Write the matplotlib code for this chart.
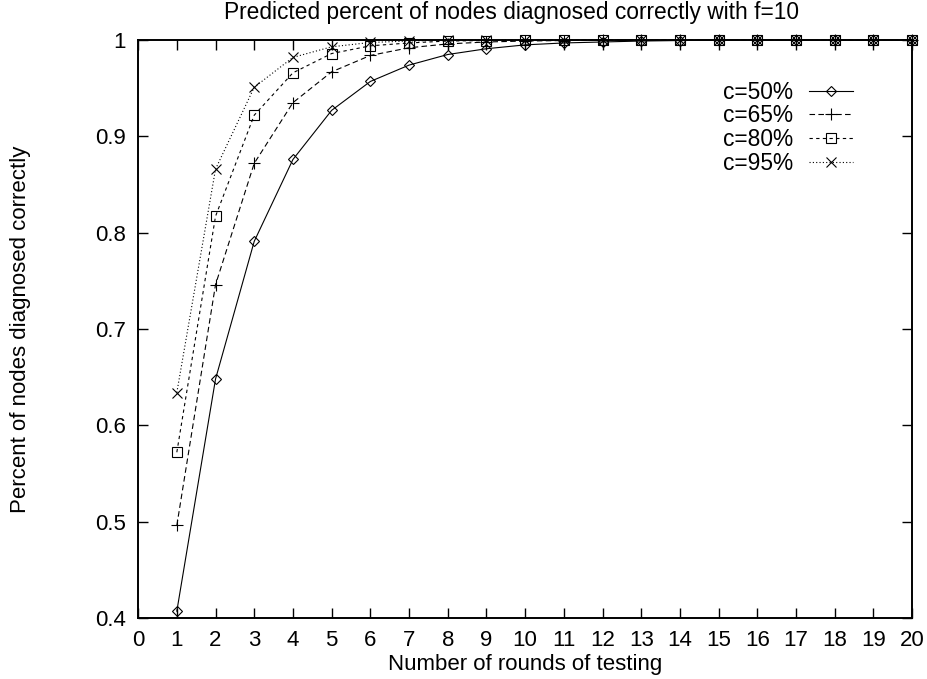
import matplotlib
matplotlib.use('Agg')
from matplotlib import pyplot as plt
from matplotlib.ticker import FormatStrFormatter

plt.rcParams['font.family'] = ['Liberation Sans', 'DejaVu Sans']

#--- DATA ---------------------------------------------------------------------+

rounds = list(range(1, 21))
c50 = [0.407, 0.648, 0.791, 0.876, 0.927, 0.957, 0.974, 0.985, 0.991, 0.995,
       0.997, 0.998, 0.999, 0.9995, 1.0, 1.0, 1.0, 1.0, 1.0, 1.0]
c65 = [0.496, 0.746, 0.872, 0.935, 0.967, 0.984, 0.992, 0.996, 0.998, 0.999,
       0.9995, 1.0, 1.0, 1.0, 1.0, 1.0, 1.0, 1.0, 1.0, 1.0]
c80 = [0.572, 0.817, 0.922, 0.966, 0.986, 0.994, 0.997, 0.999, 0.9995, 1.0,
       1.0, 1.0, 1.0, 1.0, 1.0, 1.0, 1.0, 1.0, 1.0, 1.0]
c95 = [0.634, 0.866, 0.951, 0.982, 0.993, 0.9975, 0.999, 1.0, 1.0, 1.0,
       1.0, 1.0, 1.0, 1.0, 1.0, 1.0, 1.0, 1.0, 1.0, 1.0]
labels = ['c=50%', 'c=65%', 'c=80%', 'c=95%']

#--- PLOT ---------------------------------------------------------------------+

fig = plt.figure(figsize=(9.27, 6.79), dpi=100)
ax = fig.add_axes([0.149, 0.090, 0.835, 0.851])

styles = [
    dict(ls='-', marker='D', ms=5),
    dict(ls=(0, (5, 3)), marker='+', ms=8),
    dict(ls=(0, (3, 3)), marker='s', ms=7),
    dict(ls=(0, (1, 2)), marker='x', ms=7),
]
for ys, lab, st in zip([c50, c65, c80, c95], labels, styles):
    ax.plot(rounds, ys, color='black', lw=0.8, mfc='none', mec='black',
            mew=0.8, label=lab, clip_on=False, **st)

ax.set_xlim(0, 20)
ax.set_ylim(0.4, 1.0)
ax.set_xticks(range(0, 21))
ax.set_yticks([0.4, 0.5, 0.6, 0.7, 0.8, 0.9, 1.0])
ax.yaxis.set_major_formatter(FormatStrFormatter('%g'))
ax.tick_params(direction='in', length=7, width=1, top=True, right=True,
               labelsize=16, pad=9)
for sp in ax.spines.values():
    sp.set_linewidth(1.4)

# title sits a bit left of the axes centre, like the gnuplot original
fig.text(512 / 927, 1 - 13 / 679,
         'Predicted percent of nodes diagnosed correctly with f=10',
         fontsize=16.4, ha='center', va='center')
ax.set_xlabel('Number of rounds of testing', fontsize=16, labelpad=2)
ax.set_ylabel('Percent of nodes diagnosed correctly', fontsize=16, labelpad=46)

leg = ax.legend(loc='upper right', bbox_to_anchor=(0.924, 0.93),
                frameon=False, markerfirst=False, handlelength=1.95,
                handletextpad=0.7, labelspacing=0.04, borderpad=0,
                borderaxespad=0, fontsize=16.4)

plt.savefig('out.png', dpi=100)
